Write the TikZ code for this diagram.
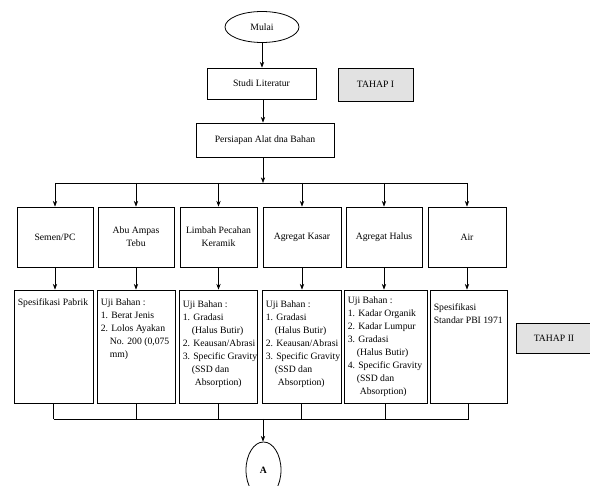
\documentclass[tikz,border=0pt]{standalone}
\usepackage{fontspec}
\setmainfont{Liberation Serif}
\usetikzlibrary{positioning, arrows.meta, shapes.geometric}
\definecolor{tahapFill}{HTML}{E2E2E2}
\tikzset{
  stepbox/.style={draw, line width=0.8pt, align=center, inner sep=1pt},
  tahapbox/.style={stepbox, fill=tahapFill},
  startnode/.style={draw, ellipse, line width=0.8pt, inner sep=0pt},
  ujitext/.style={anchor=north west, align=left, inner sep=0pt},
  link/.style={line width=0.6pt}
}
\newcommand{\ind}{\hspace*{9pt}}
\begin{document}
\begin{tikzpicture}[x=1pt, y=-1pt, >=Stealth, font=\fontsize{9.7}{13}\selectfont]
  \useasboundingbox (0,0) rectangle (590,486);
  \clip (0,0) rectangle (590,486);

  % tahap I
  \node[startnode, minimum width=74, minimum height=31] (mulai) at (262,27) {Mulai};
  \node[stepbox, minimum width=109, minimum height=31] (studi) at (261.5,83.5) {Studi Literatur};
  \node[tahapbox, minimum width=75, minimum height=33] (tahap1) at (375.5,84.5) {TAHAP I};
  \node[stepbox, minimum width=138, minimum height=34] (persiapan) at (265,140) {Persiapan Alat dna Bahan};
  \coordinate (busT) at (263,183);

  \draw[link, ->] (mulai.south) -- (mulai.south |- studi.north);
  \draw[link, ->] (studi.south -| busT) -- (busT |- persiapan.north);
  \draw[link, ->] (busT |- persiapan.south) -- (busT);

  % bahan
  \foreach \n/\x/\w/\t in {semen/55/76/{Semen/PC}, abu/136/76/{Abu Ampas\\Tebu},
      limbah/218.5/77/{Limbah Pecahan\\Keramik}, kasar/302/78/{Agregat Kasar},
      halus/384/76/{Agregat Halus}, air/467/78/{Air}} {
    \node[stepbox, minimum width=\w, minimum height=60] (\n) at (\x,237) {\t};
  }
  \draw[link] (semen.north |- busT) -- (air.north |- busT);
  \foreach \n in {semen, abu, limbah, kasar, halus, air}
    \draw[link, ->] (\n.north |- busT) -- (\n.north);

  % pengujian
  \foreach \n/\x/\w in {pabrik/53.5/79, uji2/136/78, uji3/218/78, uji4/301.5/79,
      uji5/385.5/83, pbi/468.5/77} {
    \node[stepbox, minimum width=\w, minimum height=113] (\n) at (\x,346.5) {};
  }
  \foreach \a/\b in {semen/pabrik, abu/uji2, limbah/uji3, kasar/uji4, halus/uji5, air/pbi}
    \draw[link, ->] (\a.south) -- (\a.south |- \b.north);

  \node[ujitext] (pabrikT) at ([shift={(4,9)}]pabrik.north west) {Spesifikasi Pabrik};
  \node[ujitext] (uji2T) at ([shift={(4,9)}]uji2.north west)
    {Uji Bahan :\\1. Berat Jenis\\2. Lolos Ayakan\\\ind No. 200 (0,075\\\ind mm)};
  \foreach \n in {uji3, uji4}
    \node[ujitext] (\n T) at ([shift={(4,11)}]\n.north west)
      {Uji Bahan :\\1. Gradasi\\\ind (Halus Butir)\\2. Keausan/Abrasi\\3. Specific Gravity\\\ind (SSD dan\\\ind\hspace*{3pt}Absorption)};
  \node[ujitext] (uji5T) at ([shift={(4,7)}]uji5.north west)
    {Uji Bahan :\\1. Kadar Organik\\2. Kadar Lumpur\\3. Gradasi\\\ind (Halus Butir)\\4. Specific Gravity\\\ind (SSD dan\\\ind\hspace*{3pt}Absorption)};
  \node[ujitext] (pbiT) at ([shift={(4,14)}]pbi.north west) {Spesifikasi\\Standar PBI 1971};

  \node[tahapbox, minimum width=76, minimum height=30] (tahap2) at (554,338.5) {TAHAP II};

  % ke A
  \coordinate (busB) at (263,419);
  \node[startnode, minimum width=35, minimum height=56, font=\fontsize{9.7}{13}\selectfont\bfseries] (titikA) at (263.5,470) {A};
  \draw[link] (pabrik.south |- busB) -- (pbi.south |- busB);
  \foreach \n in {pabrik, uji2, uji3, uji4, uji5, pbi}
    \draw[link] (\n.south) -- (\n.south |- busB);
  \draw[link, ->] (busB) -- (busB |- titikA.north);
\end{tikzpicture}
\end{document}
